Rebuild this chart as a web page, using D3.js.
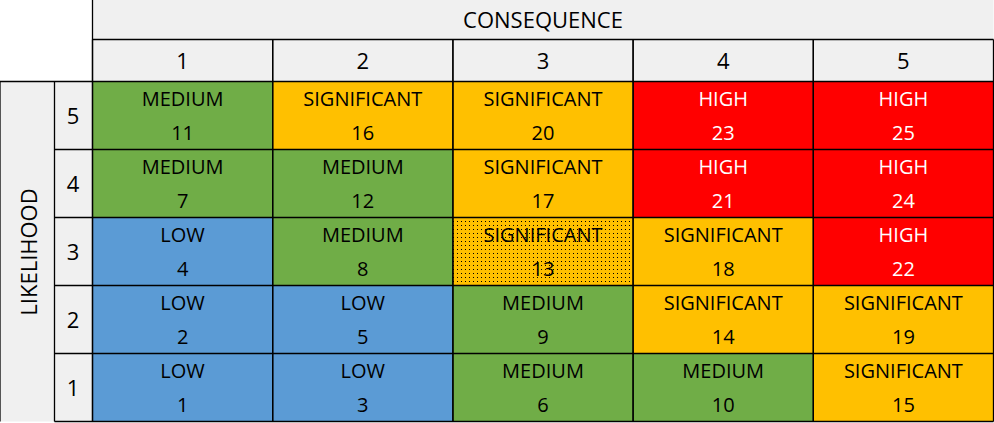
<!DOCTYPE html><html><head><script src="https://d3js.org/d3.v7.min.js"></script>
<style>body{margin:0;background:#fff}</style></head><body><svg id="c" width="994" height="423"></svg><script>
const consequences=[1,2,3,4,5];
const likelihoods=[5,4,3,2,1];
const scores=[[11,16,20,23,25],[7,12,17,21,24],[4,8,13,18,22],[2,5,9,14,19],[1,3,6,10,15]];
const levels=[["MEDIUM","SIGNIFICANT","SIGNIFICANT","HIGH","HIGH"],["MEDIUM","MEDIUM","SIGNIFICANT","HIGH","HIGH"],["LOW","MEDIUM","SIGNIFICANT","SIGNIFICANT","HIGH"],["LOW","LOW","MEDIUM","SIGNIFICANT","SIGNIFICANT"],["LOW","LOW","MEDIUM","MEDIUM","SIGNIFICANT"]];
const colors={LOW:"#5b9bd5",MEDIUM:"#70ad47",SIGNIFICANT:"#ffc000",HIGH:"#ff0000"};
const textColors={LOW:"#000",MEDIUM:"#000",SIGNIFICANT:"#000",HIGH:"#fff"};
const svg=d3.select("#c");
const font="'Open Sans',Lato,sans-serif";
const x=d3.scaleBand().domain(consequences).range([92.5,993.5]);
const y=d3.scaleBand().domain(likelihoods).range([81.5,421.5]);
const defs=svg.append("defs");
const pat=defs.append("pattern").attr("id","dots").attr("width",4).attr("height",4).attr("patternUnits","userSpaceOnUse");
pat.append("rect").attr("width",4).attr("height",4).attr("fill","#ffc000");
pat.append("rect").attr("x",1).attr("y",1).attr("width",1).attr("height",1).attr("fill","#000");
const hdr="#f0f0f0";
svg.append("rect").attr("x",92.5).attr("y",0).attr("width",901).attr("height",81.5).attr("fill",hdr);
svg.append("rect").attr("x",0).attr("y",81.5).attr("width",92.5).attr("height",340).attr("fill",hdr);
svg.append("text").attr("x",543).attr("y",28).attr("text-anchor","middle").attr("font-family",font).attr("font-size",22).text("CONSEQUENCE");
svg.append("text").attr("transform","translate(37,252) rotate(-90)").attr("text-anchor","middle").attr("font-family",font).attr("font-size",22).text("LIKELIHOOD");
consequences.forEach(c=>svg.append("text").attr("x",x(c)+x.bandwidth()/2).attr("y",69).attr("text-anchor","middle").attr("font-family",font).attr("font-size",22).text(c));
likelihoods.forEach(l=>svg.append("text").attr("x",73).attr("y",y(l)+y.bandwidth()/2+8).attr("text-anchor","middle").attr("font-family",font).attr("font-size",22).text(l));
likelihoods.forEach((l,i)=>consequences.forEach((c,j)=>{
  const lv=levels[i][j], s=scores[i][j];
  const g=svg.append("g");
  g.append("rect").attr("x",x(c)).attr("y",y(l)).attr("width",x.bandwidth()).attr("height",y.bandwidth())
   .attr("fill",s===13?"url(#dots)":colors[lv]);
  const cx=x(c)+x.bandwidth()/2;
  g.append("text").attr("x",cx).attr("y",y(l)+24).attr("text-anchor","middle").attr("font-family",font).attr("font-size",20).attr("fill",textColors[lv]).text(lv);
  g.append("text").attr("x",cx).attr("y",y(l)+58).attr("text-anchor","middle").attr("font-family",font).attr("font-size",20).attr("fill",textColors[lv]).text(s);
}));
const ln=(x1,y1,x2,y2)=>svg.append("line").attr("x1",x1).attr("y1",y1).attr("x2",x2).attr("y2",y2).attr("stroke","#000").attr("stroke-width",1.3);
ln(92.5,0,92.5,421.5);
ln(92.5,39.5,993.5,39.5);
ln(0,81.5,993.5,81.5);
ln(54.5,81.5,54.5,421.5);
consequences.forEach(c=>ln(x(c)+x.bandwidth(),39.5,x(c)+x.bandwidth(),421.5));
consequences.forEach(c=>ln(x(c),39.5,x(c),421.5));
likelihoods.forEach(l=>ln(54.5,y(l)+y.bandwidth(),993.5,y(l)+y.bandwidth()));
ln(0,81.5,0,421.5);
</script></body></html>
